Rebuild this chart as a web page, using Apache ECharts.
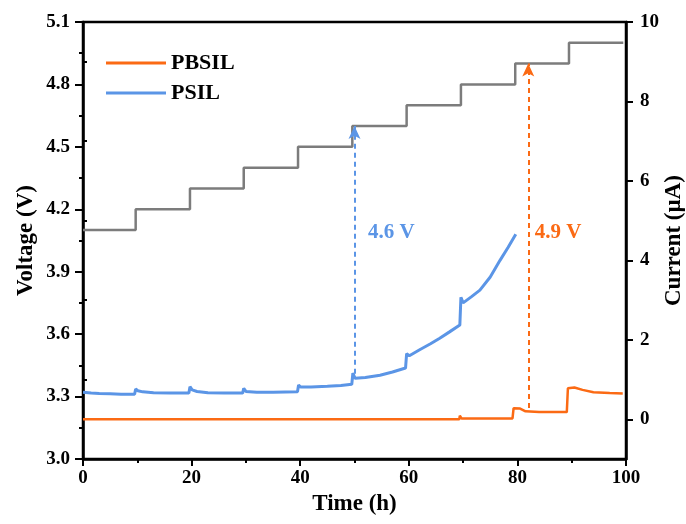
<!DOCTYPE html>
<html>
<head>
<meta charset="utf-8">
<script src="https://cdn.jsdelivr.net/npm/echarts@6/dist/echarts.min.js"></script>
<style>
html,body{margin:0;padding:0;background:#fff;}
#chart{width:686px;height:524px;}
</style>
</head>
<body>
<div id="chart"></div>
<script>
// ---- data ----
const seriesNames = ['PBSIL', 'PSIL'];
const xTicks = [0, 20, 40, 60, 80, 100];
const voltageTicks = [3.0, 3.3, 3.6, 3.9, 4.2, 4.5, 4.8, 5.1];
const currentTicks = [0, 2, 4, 6, 8, 10];
const currentMinorTicks = [1, 3, 5, 7, 9];

// applied voltage steps [time (h), voltage (V)]
const voltageSteps = [
  [0, 4.1], [9.7, 4.2], [19.7, 4.3], [29.6, 4.4], [39.6, 4.5],
  [49.6, 4.6], [59.6, 4.7], [69.6, 4.8], [79.6, 4.9], [89.5, 5.0], [99.5, 5.0]
];

// PSIL leakage current [time (h), current (µA)]
const psilCurrent = [
  [0, 0.68], [1.5, 0.66], [3, 0.65], [5, 0.64], [7, 0.63], [9.5, 0.63],
  [9.7, 0.76], [10.1, 0.72], [11, 0.69], [13, 0.67], [16, 0.66], [19.5, 0.66],
  [19.7, 0.82], [20.1, 0.74], [21, 0.70], [23, 0.67], [26, 0.66], [29.4, 0.66],
  [29.6, 0.78], [30, 0.70], [32, 0.68], [35, 0.68], [39.5, 0.69],
  [39.7, 0.86], [40.1, 0.81], [42, 0.81], [45, 0.83], [47.5, 0.85], [49.5, 0.88],
  [49.7, 1.16], [50.1, 1.03], [52, 1.05], [54.7, 1.11], [57, 1.19], [59.4, 1.29],
  [59.6, 1.65], [60.1, 1.60], [62, 1.75], [64, 1.90], [65.7, 2.04], [67.5, 2.20], [69.4, 2.37],
  [69.6, 3.07], [70, 2.93], [71.5, 3.08], [73.1, 3.25], [75, 3.58], [76.8, 4.00], [78.3, 4.33], [79.7, 4.66]
];

// PBSIL leakage current [time (h), current (µA)]
const pbsilCurrent = [
  [0, 0], [69.3, 0], [69.4, 0.09], [69.7, 0.02], [79.1, 0.02],
  [79.3, 0.28], [80.5, 0.27], [81.5, 0.20], [84, 0.18], [89.1, 0.18],
  [89.3, 0.78], [90.5, 0.80], [92, 0.74], [94, 0.68], [97, 0.66], [99.4, 0.65]
];

// onset annotations (voltage axis): time (h), arrow start / end voltage, label
const psilOnset = {t: 50, from: 3.41, to: 4.6, label: '4.6 V', labelAt: [52.4, 4.09]};
const pbsilOnset = {t: 82, from: 3.245, to: 4.9, label: '4.9 V', labelAt: [83.1, 4.09]};

// ---- style ----
const FONT = '"Liberation Serif", "Times New Roman", serif';
const ORANGE = '#fb6a14';
const BLUE = '#5b95e6';
const GRAY = '#7c7c7c';

const chart = echarts.init(document.getElementById('chart'), null, {renderer: 'canvas'});

const tickLabel = {color: '#000', fontFamily: FONT, fontWeight: 'bold', fontSize: 19};
const nameStyle = {color: '#000', fontFamily: FONT, fontWeight: 'bold', fontSize: 23};
const axisLine = {show: true, onZero: false, lineStyle: {color: '#000', width: 2.5}};

function onsetLine(o, color) {
  return [
    {coord: [o.t, o.from], lineStyle: {color: color, type: [5, 4], width: 2}, itemStyle: {color: color}},
    {coord: [o.t, o.to]}
  ];
}
function onsetLabel(o, color) {
  return {coord: o.labelAt, label: {show: true, position: 'right', distance: 0, formatter: o.label,
    color: color, fontFamily: FONT, fontWeight: 'bold', fontSize: 21}};
}

const option = {
  animation: false,
  backgroundColor: '#fff',
  grid: {left: 83, right: 60, top: 22, bottom: 65, outerBoundsMode: 'none', containLabel: false,
         show: true, borderColor: '#000', borderWidth: 2.5},
  legend: {
    data: seriesNames,
    orient: 'vertical',
    left: 101,
    top: 47,
    icon: 'rect',
    itemWidth: 60,
    itemHeight: 3,
    itemGap: 8,
    textStyle: {color: '#000', fontFamily: FONT, fontWeight: 'bold', fontSize: 22}
  },
  xAxis: {
    type: 'value', min: xTicks[0], max: xTicks[xTicks.length - 1], interval: 20,
    name: 'Time (h)', nameLocation: 'middle', nameGap: 34, nameMoveOverlap: false, nameTextStyle: nameStyle,
    axisLine: axisLine,
    axisTick: {show: true, length: 7, lineStyle: {color: '#000', width: 2}},
    minorTick: {show: true, splitNumber: 2, length: 4, lineStyle: {color: '#000', width: 2}},
    axisLabel: Object.assign({margin: 10}, tickLabel),
    splitLine: {show: false}
  },
  yAxis: [
    {
      type: 'value', position: 'left', min: 3.0, max: 5.1, interval: 0.3,
      name: 'Voltage (V)', nameLocation: 'middle', nameGap: 45, nameRotate: 90, nameMoveOverlap: false,
      nameTextStyle: nameStyle,
      axisLine: axisLine,
      axisTick: {show: true, length: 8, lineStyle: {color: '#000', width: 2}},
      minorTick: {show: true, splitNumber: 2, length: 4, lineStyle: {color: '#000', width: 2}},
      axisLabel: Object.assign({margin: 13, formatter: v => v.toFixed(1), customValues: voltageTicks}, tickLabel),
      splitLine: {show: false}
    },
    {
      type: 'value', position: 'right', min: -1, max: 10,
      name: 'Current (µA)', nameLocation: 'middle', nameGap: 37, nameRotate: 90, nameMoveOverlap: false,
      nameTextStyle: nameStyle,
      axisLine: axisLine,
      axisTick: {show: true, length: 7, customValues: currentTicks, lineStyle: {color: '#000', width: 2}},
      axisLabel: Object.assign({margin: 14, customValues: currentTicks}, tickLabel),
      splitLine: {show: false}
    },
    {
      type: 'value', position: 'right', min: -1, max: 10,
      axisLine: {show: false},
      axisTick: {show: true, length: 4, customValues: currentMinorTicks, lineStyle: {color: '#000', width: 2}},
      axisLabel: {show: false},
      splitLine: {show: false}
    }
  ],
  series: [
    {
      name: 'Voltage', type: 'line', yAxisIndex: 0, step: 'end', data: voltageSteps,
      showSymbol: false, lineStyle: {color: GRAY, width: 2.5}, itemStyle: {color: GRAY}, z: 2,
      markLine: {
        silent: true,
        symbol: ['none', 'arrow'],
        symbolSize: [9, 13],
        label: {show: false},
        data: [onsetLine(psilOnset, BLUE), onsetLine(pbsilOnset, ORANGE)]
      },
      markPoint: {
        silent: true,
        symbol: 'circle', symbolSize: 1, itemStyle: {color: 'rgba(0,0,0,0)'},
        data: [onsetLabel(psilOnset, BLUE), onsetLabel(pbsilOnset, ORANGE)]
      }
    },
    {
      name: 'PBSIL', type: 'line', yAxisIndex: 1, data: pbsilCurrent,
      showSymbol: false, lineStyle: {color: ORANGE, width: 2.5}, itemStyle: {color: ORANGE}, z: 3
    },
    {
      name: 'PSIL', type: 'line', yAxisIndex: 1, data: psilCurrent,
      showSymbol: false, lineStyle: {color: BLUE, width: 3}, itemStyle: {color: BLUE}, z: 3
    }
  ]
};
chart.setOption(option);
</script>
</body>
</html>
